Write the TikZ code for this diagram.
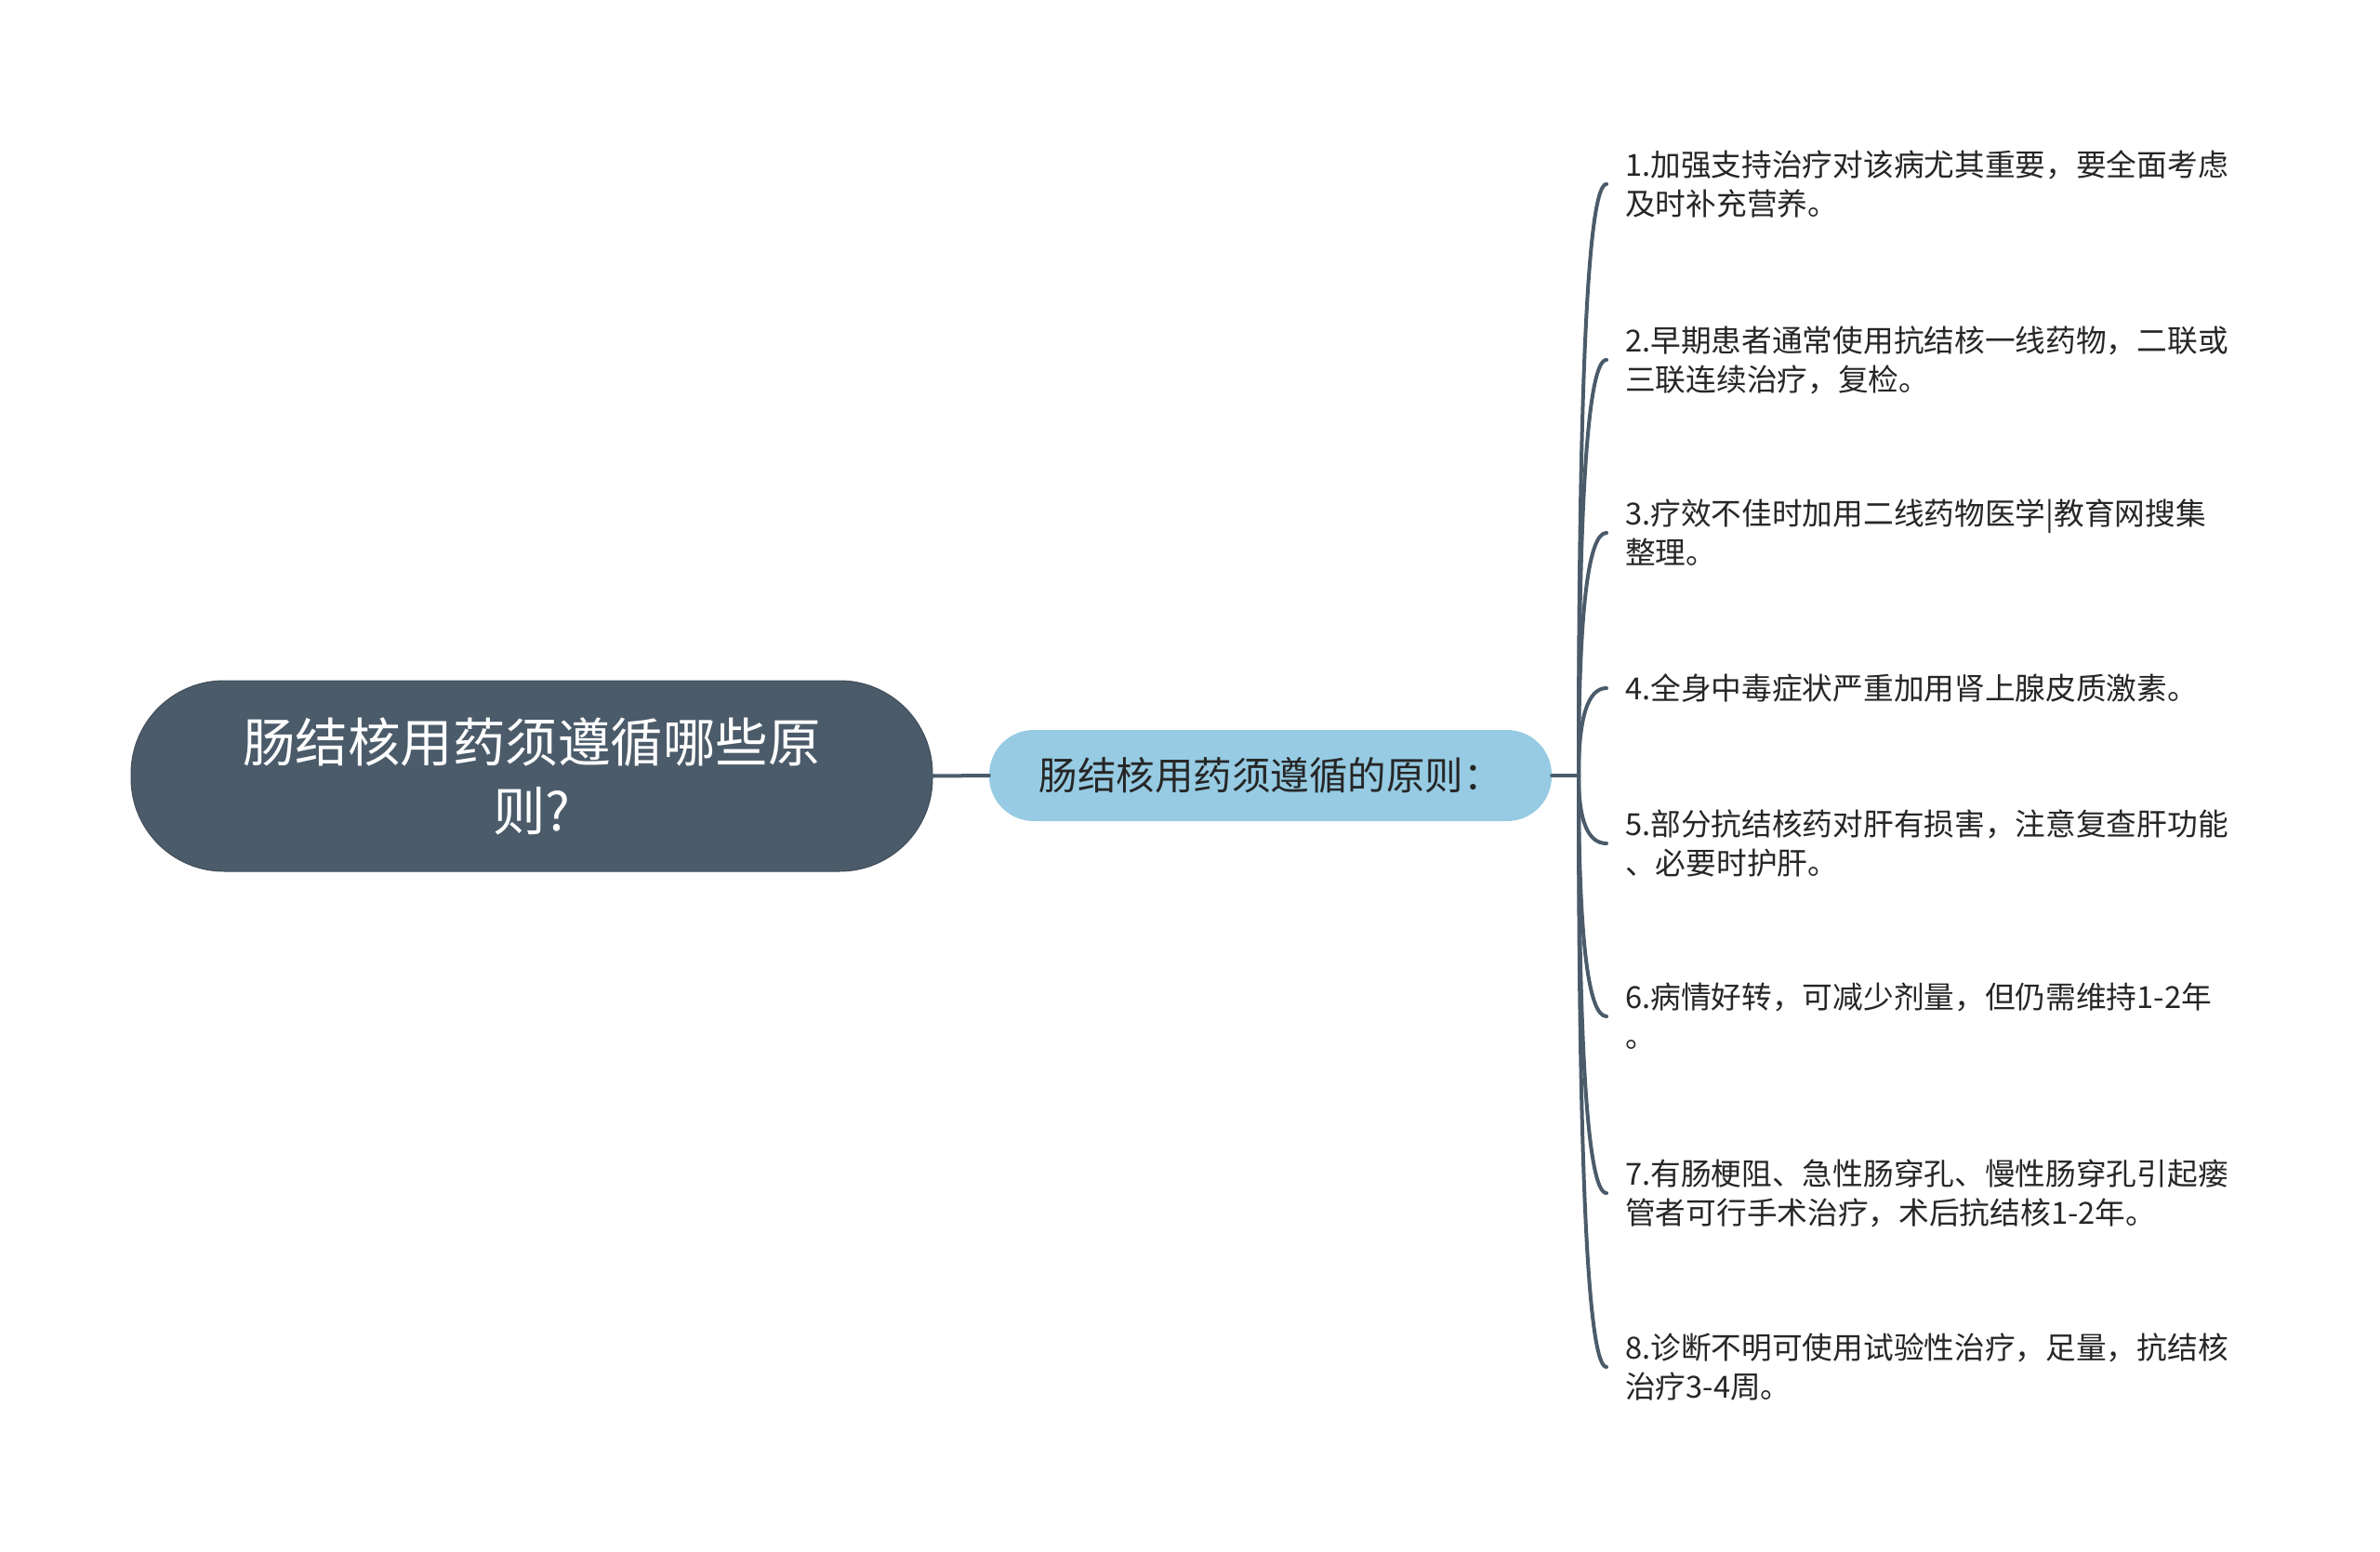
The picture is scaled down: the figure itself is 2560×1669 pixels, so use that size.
\documentclass[tikz,border=0pt]{standalone}
\usepackage{fontspec}
\setmainfont{Noto Sans CJK SC}
\usetikzlibrary{calc}
\definecolor{rootc}{HTML}{4B5B6A}
\definecolor{midc}{HTML}{96CBE3}
\definecolor{linec}{HTML}{4B5B6A}
\definecolor{txtc}{HTML}{262626}
\begin{document}
\begin{tikzpicture}[x=1pt,y=-1pt,
  rootbox/.style={fill=rootc, draw=rootc!85!black, line width=1pt, rounded corners=100pt,
    minimum width=862pt, minimum height=205pt, inner sep=0pt, align=center, text=white,
    font=\fontsize{56.5}{74}\selectfont},
  midbox/.style={fill=midc, rounded corners=48pt, minimum width=605pt, minimum height=98pt,
    inner sep=0pt, text=txtc, font=\fontsize{41.5}{48}\selectfont},
  leafbox/.style={anchor=west, inner xsep=20pt, inner ysep=0pt, align=left, text=txtc,
    font=\fontsize{32.7}{42}\selectfont},
  link/.style={draw=linec, line width=4pt, line cap=round}]
\useasboundingbox (0,0) rectangle (2560,1669);
\fill[white] (0,0) rectangle (2560,1669);

\node[rootbox] (root) at (572,834.5) {肠结核用药须遵循哪些原\\则?};
\node[midbox] (mid) at (1366.5,834) {肠结核用药须遵循的原则：};
\coordinate (J) at (1698,834);

\node[leafbox] (l1) at (1728,198) {1.加强支持治疗对该病尤其重要，要全面考虑\\及时补充营养。};
\node[leafbox] (l2) at (1728,387) {2.早期患者通常使用抗结核一线药物，二联或\\三联连续治疗，复检。};
\node[leafbox] (l3) at (1728,573) {3.疗效不佳时加用二线药物医学|教育网搜集\\整理。};
\node[leafbox] (l4) at (1728,740) {4.全身中毒症状严重加用肾上腺皮质激素。};
\node[leafbox] (l5) at (1728,907) {5.部分抗结核药对肝有损害，注意复查肝功能\\、必要时护肝。};
\node[leafbox] (l6) at (1728,1093) {6.病情好转，可减少剂量，但仍需维持1-2年\\。};
\node[leafbox] (l7) at (1728,1283) {7.有肠梗阻、急性肠穿孔、慢性肠穿孔引起瘘\\管者可行手术治疗，术后抗结核1-2年。};
\node[leafbox] (l8) at (1728,1470) {8.诊断不明可使用试验性治疗，足量，抗结核\\治疗3-4周。};

\draw[link] (root.east) -- (mid.west);
\draw[link] (mid.east) -- (J);
\foreach \l in {l1,l2,l3,l4,l5,l6,l7,l8}{
  \draw[link] (J) .. controls ($(J)!0.667!(J |- \l.west)$) and ($(\l.west)+(-20,0)$) .. (\l.west);
}
\end{tikzpicture}
\end{document}
